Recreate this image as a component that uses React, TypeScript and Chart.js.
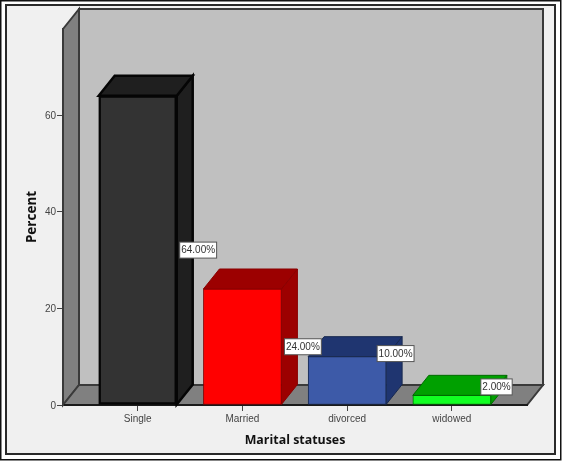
import React, { useEffect, useRef } from 'react';
import { Chart, registerables } from 'chart.js';

Chart.register(...registerables);

const categories = ['Single', 'Married', 'divorced', 'widowed'];
const percents = [64, 24, 10, 2];
const yTicks = [0, 20, 40, 60];

const frontColors = ['#333333', '#ff0000', '#3d5aa8', '#11ff22'];
const sideColors = ['#1f1f1f', '#9c0000', '#1f3570', '#00a000'];
const edgeColors = ['#050505', '#8a0000', '#18294f', '#006b00'];
const edgeWidths = [2.5, 1, 1, 1];

// 3D depth of the box, same for walls and bars
const DX = 16;
const DY = -20;

// SPSS moved the labels of the two small bars off the bar's middle
const labelShiftX = [3, 3, -9, -10];
const labelShiftY = [0, 0, -27, -13];

const poly = (ctx: CanvasRenderingContext2D, pts: number[][], fill: string, stroke: string, lw: number) => {
  ctx.beginPath();
  pts.forEach(([x, y], i) => (i ? ctx.lineTo(x, y) : ctx.moveTo(x, y)));
  ctx.closePath();
  ctx.fillStyle = fill;
  ctx.fill();
  ctx.strokeStyle = stroke;
  ctx.lineWidth = lw;
  ctx.lineJoin = 'miter';
  ctx.stroke();
};

const box3d = {
  id: 'box3d',
  beforeDraw(chart: any) {
    const { ctx, chartArea: a, width, height } = chart;
    ctx.save();
    ctx.fillStyle = '#ffffff';
    ctx.fillRect(0, 0, width, height);
    ctx.strokeStyle = '#111111';
    ctx.lineWidth = 1.5;
    ctx.strokeRect(0.75, 0.75, 560, 459);
    ctx.fillStyle = '#f0f0f0';
    ctx.fillRect(6, 5, 549, 449);
    ctx.strokeStyle = '#2a2a2a';
    ctx.lineWidth = 2;
    ctx.strokeRect(6, 5, 549, 449);

    const { left: l, right: r, top: t, bottom: b } = a;
    poly(ctx, [[l + DX, t + DY], [r + DX, t + DY], [r + DX, b + DY], [l + DX, b + DY]], '#c0c0c0', '#3a3a3a', 2);
    poly(ctx, [[l, t], [l + DX, t + DY], [l + DX, b + DY], [l, b]], '#808080', '#3a3a3a', 2);
    poly(ctx, [[l, b], [l + DX, b + DY], [r + DX, b + DY], [r, b]], '#808080', '#3a3a3a', 2);
    ctx.restore();
  },
  beforeDatasetsDraw(chart: any) {
    const { ctx } = chart;
    ctx.save();
    chart.getDatasetMeta(0).data.forEach((bar: any, i: number) => {
      const x0 = bar.x - bar.width / 2;
      const x1 = bar.x + bar.width / 2;
      const lw = edgeWidths[i];
      poly(ctx, [[x1, bar.y], [x1 + DX, bar.y + DY], [x1 + DX, bar.base + DY], [x1, bar.base]], sideColors[i], edgeColors[i], lw);
      poly(ctx, [[x0, bar.y], [x0 + DX, bar.y + DY], [x1 + DX, bar.y + DY], [x1, bar.y]], sideColors[i], edgeColors[i], lw);
    });
    ctx.restore();
  },
  afterDatasetsDraw(chart: any) {
    const { ctx } = chart;
    ctx.save();
    ctx.font = '10px "Liberation Sans"';
    ctx.textAlign = 'center';
    ctx.textBaseline = 'middle';
    chart.getDatasetMeta(0).data.forEach((bar: any, i: number) => {
      const text = percents[i].toFixed(2) + '%';
      const w = ctx.measureText(text).width + 3;
      const h = 16;
      const left = bar.x + bar.width / 2 + labelShiftX[i];
      const cy = (bar.y + bar.base) / 2 + labelShiftY[i];
      ctx.fillStyle = '#ffffff';
      ctx.fillRect(left, cy - h / 2, w, h);
      ctx.strokeStyle = '#555555';
      ctx.lineWidth = 1;
      ctx.strokeRect(left, cy - h / 2, w, h);
      ctx.fillStyle = '#333333';
      ctx.fillText(text, left + w / 2, cy + 0.5);
    });
    ctx.restore();
  },
};

export default function App() {
  const canvasRef = useRef<HTMLCanvasElement>(null);

  useEffect(() => {
    if (!canvasRef.current) return;
    const chart = new Chart(canvasRef.current, {
      type: 'bar',
      data: {
        datasets: [
          {
            label: 'Percent',
            data: percents.map((v, i) => ({ x: i, y: v })),
            backgroundColor: frontColors,
            borderColor: edgeColors,
            borderWidth: edgeWidths,
            borderSkipped: false,
            barThickness: 78,
          },
        ],
      },
      options: {
        responsive: false,
        animation: false,
        layout: { padding: { top: 29, right: 36, bottom: 13, left: 0 } },
        plugins: { legend: { display: false }, tooltip: { enabled: false } },
        scales: {
          x: {
            type: 'linear',
            offset: false,
            min: -0.7135,
            max: 3.718,
            afterBuildTicks: (scale: any) => {
              scale.ticks = categories.map((_, i) => ({ value: i }));
            },
            afterFit: (scale: any) => {
              scale.height = 43;
            },
            grid: { offset: false, drawOnChartArea: false, drawTicks: true, tickLength: 6, color: '#444444', lineWidth: 1 },
            border: { display: true, color: '#1a1a1a', width: 2 },
            ticks: {
              autoSkip: false,
              maxRotation: 0,
              padding: 2,
              color: '#444444',
              font: { family: '"Liberation Sans"', size: 10 },
              callback: (value: any) => categories[value],
            },
            title: {
              display: true,
              text: 'Marital statuses',
              color: '#111111',
              padding: 0,
              font: { family: '"Open Sans"', size: 12.4, weight: 'bold' },
            },
          },
          y: {
            min: 0,
            max: 77.8,
            afterBuildTicks: (scale: any) => {
              scale.ticks = yTicks.map((value) => ({ value }));
            },
            afterFit: (scale: any) => {
              scale.width = 63;
            },
            grid: { drawOnChartArea: false, drawTicks: true, tickLength: 6, color: '#444444', lineWidth: 1 },
            border: { display: true, color: '#3a3a3a', width: 2 },
            ticks: {
              padding: 1,
              labelOffset: 1,
              color: '#444444',
              font: { family: '"Liberation Sans"', size: 10 },
            },
            title: {
              display: true,
              text: 'Percent',
              color: '#111111',
              padding: { top: 24, bottom: 0 },
              font: { family: '"Open Sans"', size: 13.5, weight: 'bold' },
            },
          },
        },
      },
      plugins: [box3d],
    } as any);
    return () => chart.destroy();
  }, []);

  return (
    <div style={{ position: 'absolute', left: 0, top: 0, width: 563, height: 461 }}>
      <canvas ref={canvasRef} width={563} height={461} style={{ display: 'block' }} />
    </div>
  );
}
